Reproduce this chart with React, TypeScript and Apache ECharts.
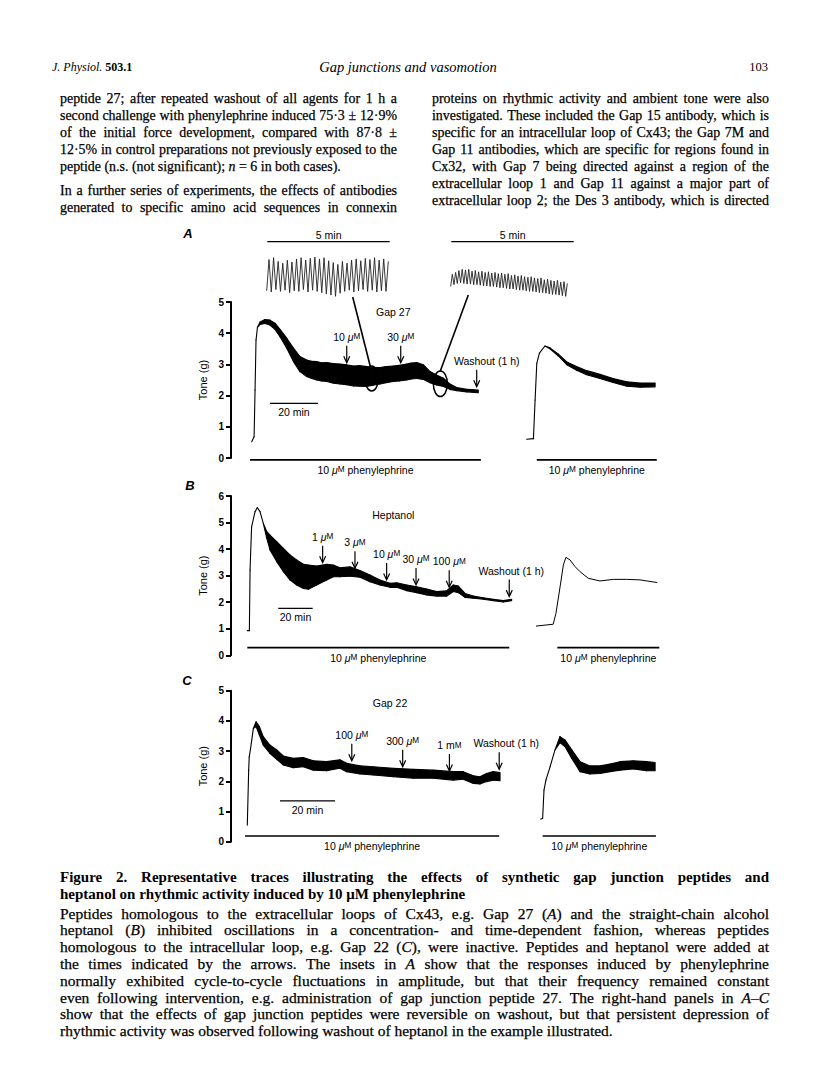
import React, { useEffect, useRef } from "react";
import * as echarts from "echarts";

const PAGE_W = 816;
const PAGE_H = 1088;
const SANS = '"Liberation Sans", Arial, Helvetica, sans-serif';
const SERIF = '"Liberation Serif", "Times New Roman", serif';

// ---------------- DATA (time in min, tone in g) ----------------
// Panel A (Gap 27) main trace: envelope of the oscillating record
const aMainT = [0, 1, 1.4, 1.8, 2.4, 3.5, 5.5, 7.6, 9.7, 11.8, 14.6, 17.4, 20.1, 22.9, 25, 27.1, 29, 31.3, 34, 36.8, 39.5, 42.4, 45, 47.9, 50.5, 53.5, 56, 59, 61.5, 64.6, 66.5, 68.8, 71.5, 74.3, 77, 79.9, 82.6, 85.4, 89.6, 94.4];
const aMainUpper = [0.52, 0.68, 2.18, 3.78, 4.19, 4.36, 4.44, 4.42, 4.32, 4.12, 3.84, 3.52, 3.25, 3.14, 3.1, 3.09, 3.05, 3.06, 3.03, 3.01, 2.99, 2.95, 2.96, 2.93, 2.9, 2.9, 2.93, 2.95, 2.97, 3.01, 3.04, 3.06, 2.99, 2.77, 2.66, 2.56, 2.37, 2.26, 2.2, 2.18];
const aMainLower = [0.52, 0.68, 2.18, 3.78, 4.19, 4.28, 4.31, 4.26, 4.12, 3.89, 3.52, 3.09, 2.77, 2.61, 2.55, 2.5, 2.47, 2.45, 2.4, 2.37, 2.35, 2.31, 2.3, 2.29, 2.33, 2.37, 2.41, 2.45, 2.47, 2.5, 2.53, 2.55, 2.52, 2.41, 2.34, 2.29, 2.2, 2.16, 2.12, 2.09];
// Panel A right-hand (after washout)
const aRightT = [0, 2.8, 3.5, 4.2, 5.3, 7.6, 9.7, 13.2, 16.7, 20.8, 25, 30.5, 36, 41.7, 47.2, 53.5];
const aRightUpper = [0.6, 0.62, 1.86, 3.03, 3.36, 3.59, 3.53, 3.33, 3.08, 2.93, 2.8, 2.68, 2.55, 2.44, 2.4, 2.4];
const aRightLower = [0.6, 0.62, 1.86, 3.03, 3.36, 3.59, 3.5, 3.27, 2.99, 2.81, 2.67, 2.55, 2.42, 2.3, 2.27, 2.28];
// Panel A insets: successive troughs and peaks of single cycles
const inset1Troughs = [2.45, 2.43, 2.47, 2.44, 2.46, 2.42, 2.45, 2.44, 2.47, 2.43, 2.46, 2.44, 2.42, 2.4, 2.38, 2.36, 2.41, 2.44, 2.46, 2.43, 2.45, 2.47, 2.44, 2.46, 2.43, 2.45, 2.44];
const inset1Peaks = [2.96, 2.99, 2.93, 2.9, 2.95, 2.92, 2.97, 2.99, 2.95, 2.98, 3.0, 2.97, 2.99, 2.94, 2.91, 2.88, 2.93, 2.9, 2.95, 2.97, 2.94, 2.98, 2.96, 2.99, 2.95, 2.97, 2.93];
const inset2Troughs = [2.52, 2.55, 2.57, 2.58, 2.57, 2.56, 2.56, 2.55, 2.55, 2.54, 2.53, 2.53, 2.52, 2.52, 2.51, 2.5, 2.5, 2.49, 2.48, 2.48, 2.47, 2.46, 2.46, 2.45, 2.44, 2.44, 2.43, 2.42, 2.42, 2.41, 2.4, 2.39, 2.39, 2.38, 2.37, 2.36];
const inset2Peaks = [2.72, 2.75, 2.78, 2.8, 2.79, 2.8, 2.77, 2.78, 2.76, 2.77, 2.75, 2.76, 2.74, 2.75, 2.73, 2.74, 2.72, 2.73, 2.7, 2.71, 2.69, 2.7, 2.68, 2.67, 2.68, 2.66, 2.65, 2.66, 2.63, 2.64, 2.62, 2.61, 2.62, 2.59, 2.6, 2.57];
const aArrowT = [39.6, 62.1, 93.75];
const aArrowV = [3.05, 3.05, 2.28];
const aArrowLabels = ["10 µM", "30 µM", "Washout (1 h)"];

// Panel B (Heptanol)
const bMainT = [0, 1.2, 1.6, 2.5, 4.5, 5.8, 7.4, 9.3, 11.3, 13.2, 17.1, 21, 24.8, 28.7, 32.6, 35.5, 40.3, 46.2, 50, 53.9, 59.7, 65.5, 71.3, 77.1, 83, 86.9, 92.7, 98.5, 104.3, 110.1, 116, 119.8, 122.7, 126.6, 131.4, 137.2, 143, 148.8, 153.7];
const bMainUpper = [0.93, 0.93, 3.21, 4.84, 5.41, 5.56, 5.41, 4.97, 4.66, 4.53, 4.28, 4.03, 3.78, 3.59, 3.43, 3.4, 3.36, 3.43, 3.4, 3.3, 3.33, 3.19, 3.02, 2.84, 2.71, 2.73, 2.65, 2.58, 2.5, 2.4, 2.43, 2.65, 2.61, 2.33, 2.23, 2.17, 2.11, 2.06, 2.11];
const bMainLower = [0.93, 0.93, 3.21, 4.84, 5.41, 5.56, 5.41, 4.97, 4.41, 3.97, 3.53, 3.15, 2.84, 2.65, 2.52, 2.49, 2.65, 2.84, 2.96, 2.96, 2.98, 2.94, 2.77, 2.65, 2.56, 2.56, 2.43, 2.36, 2.27, 2.23, 2.23, 2.4, 2.36, 2.18, 2.15, 2.11, 2.06, 2.01, 2.06];
const bRightT = [0, 10, 11.6, 14, 15.9, 17.4, 19.8, 22.7, 25.6, 30.4, 37.2, 45, 52.7, 60.5, 70.5];
const bRightV = [1.1, 1.17, 1.58, 2.58, 3.4, 3.69, 3.59, 3.34, 3.15, 2.9, 2.8, 2.86, 2.86, 2.84, 2.74];
const bArrowT = [43.8, 62.6, 81, 98.1, 117.4, 152.3];
const bArrowV = [3.49, 3.28, 2.84, 2.65, 2.56, 2.21];
const bArrowLabels = ["1 µM", "3 µM", "10 µM", "30 µM", "100 µM", "Washout (1 h)"];

// Panel C (Gap 22)
const cMainT = [0, 0.5, 0.7, 1.2, 2.2, 3.2, 4.4, 5.8, 8.2, 10.7, 13.1, 16.7, 20.3, 24, 28.8, 33.7, 36.1, 41, 45.8, 53.1, 60.4, 67.6, 74.9, 78.5, 82.2, 84.6, 87, 89.4, 91.9];
const cMainUpper = [0.55, 2.37, 2.81, 3.09, 3.75, 3.97, 3.81, 3.48, 3.2, 3.04, 2.84, 2.76, 2.79, 2.68, 2.65, 2.71, 2.6, 2.51, 2.48, 2.43, 2.4, 2.37, 2.32, 2.32, 2.18, 2.15, 2.26, 2.32, 2.29];
const cMainLower = [0.55, 2.37, 2.81, 3.09, 3.75, 3.81, 3.53, 3.2, 2.93, 2.73, 2.54, 2.45, 2.48, 2.37, 2.35, 2.43, 2.32, 2.24, 2.21, 2.15, 2.1, 2.1, 2.04, 2.07, 1.93, 1.91, 1.99, 2.04, 2.02];
const cRightT = [0, 0.7, 1.2, 1.9, 3.4, 5.2, 7, 8.8, 11.3, 14.3, 17.9, 21.6, 25.2, 28.8, 33.7, 38.5, 41.6];
const cRightUpper = [0.75, 0.77, 1.71, 2.04, 2.48, 3.04, 3.48, 3.37, 3.04, 2.65, 2.51, 2.51, 2.57, 2.65, 2.68, 2.65, 2.62];
const cRightLower = [0.75, 0.77, 1.71, 2.04, 2.48, 3.04, 3.28, 3.15, 2.76, 2.32, 2.24, 2.26, 2.32, 2.37, 2.41, 2.35, 2.35];
const cArrowT = [38, 56.5, 73.5, 91.6];
const cArrowV = [2.68, 2.48, 2.34, 2.4];
const cArrowLabels = ["100 µM", "300 µM", "1 mM", "Washout (1 h)"];

// phenylephrine bars [start, end] in min, and 20-min scale bars [start] per panel
const pheBars = [[-0.7, 95.5], [4.2, 54.2], [0, 152.3], [12.4, 71.7], [-0.84, 91.6], [0.7, 41.9]];
const pheBarV = [-0.06, -0.06, 0.29, 0.29, 0.19, 0.19];
const scaleBarStart = [7.6, 18, 11.9];
const scaleBarV = [1.75, 1.77, 1.35];
const yMaxes = [5, 5, 6, 6, 5, 5];

// ---------------- TEXT ----------------
const headerTitle = "Gap junctions and vasomotion";
const headerPage = "103";
const leftCol = [
  "peptide 27; after repeated washout of all agents for 1 h a",
  "second challenge with phenylephrine induced 75·3 ± 12·9%",
  "of the initial force development, compared with 87·8 ±",
  "12·5% in control preparations not previously exposed to the",
  "peptide (n.s. (not significant); _n_ = 6 in both cases).",
  "In a further series of experiments, the effects of antibodies",
  "generated to specific amino acid sequences in connexin",
];
const leftJust = [true, true, true, true, false, true, true];
const rightCol = [
  "proteins on rhythmic activity and ambient tone were also",
  "investigated. These included the Gap 15 antibody, which is",
  "specific for an intracellular loop of Cx43; the Gap 7M and",
  "Gap 11 antibodies, which are specific for regions found in",
  "Cx32, with Gap 7 being directed against a region of the",
  "extracellular loop 1 and Gap 11 against a major part of",
  "extracellular loop 2; the Des 3 antibody, which is directed",
];
const captionTitle = [
  "Figure 2. Representative traces illustrating the effects of synthetic gap junction peptides and",
  "heptanol on rhythmic activity induced by 10 μM phenylephrine",
];
const captionBody = [
  "Peptides homologous to the extracellular loops of Cx43, e.g. Gap 27 (_A_) and the straight-chain alcohol",
  "heptanol (_B_) inhibited oscillations in a concentration- and time-dependent fashion, whereas peptides",
  "homologous to the intracellular loop, e.g. Gap 22 (_C_), were inactive. Peptides and heptanol were added at",
  "the times indicated by the arrows. The insets in _A_ show that the responses induced by phenylephrine",
  "normally exhibited cycle-to-cycle fluctuations in amplitude, but that their frequency remained constant",
  "even following intervention, e.g. administration of gap junction peptide 27. The right-hand panels in _A–C_",
  "show that the effects of gap junction peptides were reversible on washout, but that persistent depression of",
  "rhythmic activity was observed following washout of heptanol in the example illustrated.",
];

// ---------------- LAYOUT ----------------
function gridSpec(left: number, right: number, top: number, bottom: number, t0: number, ppm: number) {
  return { left, top, width: right - left, height: bottom - top, xmin: (left - t0) / ppm, xmax: (right - t0) / ppm };
}
const LAYOUT = [
  gridSpec(231, 484, 302, 458, 251.7, 2.4),
  gridSpec(520, 662, 302, 458, 526.7, 2.4),
  gridSpec(231, 512, 496, 655.3, 247.3, 1.72),
  gridSpec(530, 662, 496, 655.3, 536, 1.72),
  gridSpec(231, 502, 690.7, 841.7, 247.3, 2.75),
  gridSpec(535, 662, 690.7, 841.7, 540.7, 2.75),
];
const INSETS = [
  { left: 266.7, top: 254, width: 121.6, height: 46 },
  { left: 450.7, top: 254, width: 116.6, height: 46 },
];

function interleave(tr: number[], pk: number[]) {
  const out: number[] = [];
  tr.forEach((v, i) => { out.push(v); out.push(pk[i]); });
  return out;
}

// filled envelope between lower and upper edges, drawn segment by segment through the axes
function band(gi: number, t: number[], lo: number[], up: number[]) {
  const data = t.slice(0, -1).map((x, i) => [x, lo[i], up[i], t[i + 1], lo[i + 1], up[i + 1]]);
  return {
    type: "custom", xAxisIndex: gi, yAxisIndex: gi, silent: true, clip: false,
    encode: { x: [0, 3], y: [1, 2, 4, 5] },
    data,
    renderItem: (_p: any, api: any) => {
      const a = api.coord([api.value(0), api.value(2)]);
      const b = api.coord([api.value(3), api.value(5)]);
      const c = api.coord([api.value(3), api.value(4)]);
      const d = api.coord([api.value(0), api.value(1)]);
      return {
        type: "polygon",
        shape: { points: [a, b, c, d] },
        style: { fill: "#000", stroke: "#000", lineWidth: 1.1, lineJoin: "round" },
      };
    },
  };
}

function buildOption() {
  const ins1 = interleave(inset1Troughs, inset1Peaks);
  const ins2 = interleave(inset2Troughs, inset2Peaks);
  return {
    animation: false,
    backgroundColor: "#fff",
    grid: [
      ...LAYOUT.map((g) => ({ left: g.left, top: g.top, width: g.width, height: g.height })),
      ...INSETS.map((g) => ({ left: g.left, top: g.top, width: g.width, height: g.height })),
    ],
    xAxis: [
      ...LAYOUT.map((g, i) => ({ type: "value", gridIndex: i, min: g.xmin, max: g.xmax, show: false })),
      { type: "category", gridIndex: 6, show: false, boundaryGap: false, data: ins1.map((_, i) => String(i)) },
      { type: "category", gridIndex: 7, show: false, boundaryGap: false, data: ins2.map((_, i) => String(i)) },
    ],
    yAxis: [
      ...LAYOUT.map((g, i) => {
        const main = i % 2 === 0;
        return {
          type: "value", gridIndex: i, min: 0, max: yMaxes[i], interval: 1, show: main,
          axisLine: { show: true, onZero: false, lineStyle: { color: "#000", width: 2 } },
          axisTick: { show: true, length: 5, lineStyle: { color: "#000", width: 2 } },
          axisLabel: { show: true, color: "#000", fontSize: 10, fontWeight: "bold", fontFamily: SANS, margin: 7 },
          splitLine: { show: false },
          name: main ? "Tone (g)" : "", nameLocation: "middle", nameGap: 23, nameRotate: 90,
          nameTextStyle: { color: "#000", fontSize: 11, fontFamily: SANS },
        };
      }),
      { type: "value", gridIndex: 6, min: 2.3, max: 3.05, show: false },
      { type: "value", gridIndex: 7, min: 2.3, max: 3.05, show: false },
    ],
    series: [
      band(0, aMainT, aMainLower, aMainUpper),
      band(1, aRightT, aRightLower, aRightUpper),
      band(2, bMainT, bMainLower, bMainUpper),
      { type: "line", xAxisIndex: 3, yAxisIndex: 3, symbol: "none", silent: true,
        data: bRightT.map((x, i) => [x, bRightV[i]]), lineStyle: { color: "#000", width: 1 } },
      band(4, cMainT, cMainLower, cMainUpper),
      band(5, cRightT, cRightLower, cRightUpper),
      { type: "line", xAxisIndex: 6, yAxisIndex: 6, symbol: "none", silent: true, data: ins1,
        lineStyle: { color: "#222", width: 0.9 } },
      { type: "line", xAxisIndex: 7, yAxisIndex: 7, symbol: "none", silent: true, data: ins2,
        lineStyle: { color: "#222", width: 0.9 } },
    ],
  };
}

// ---------------- text helpers ----------------
let mctx: CanvasRenderingContext2D | null = null;
function measure(s: string, size: number, family: string, bold: boolean, italic: boolean) {
  if (!mctx) mctx = document.createElement("canvas").getContext("2d");
  mctx!.font = `${italic ? "italic " : ""}${bold ? "bold " : ""}${size}px ${family}`;
  return mctx!.measureText(s).width;
}
type Seg = { text: string; it: boolean };
function parseWord(w: string): Seg[] {
  const segs: Seg[] = [];
  w.split("_").forEach((p, i) => { if (p) segs.push({ text: p, it: i % 2 === 1 }); });
  return segs;
}
function wordWidth(w: string, size: number, family: string, bold: boolean) {
  return parseWord(w).reduce((a, s) => a + measure(s.text, size, family, bold, s.it), 0);
}
function naturalWidth(line: string, size: number, family: string, bold: boolean) {
  const words = line.split(" ");
  return words.reduce((a, w) => a + wordWidth(w, size, family, bold), 0) + (words.length - 1) * measure(" ", size, family, bold, false);
}
function fitSize(lines: string[], just: boolean[], width: number, family: string, bold: boolean, maxSize: number) {
  let size = maxSize;
  lines.forEach((l, i) => {
    if (!just[i]) return;
    const nat = naturalWidth(l, 10, family, bold);
    size = Math.min(size, (10 * width) / nat * 0.995);
  });
  return size;
}
function wordEl(w: string, x: number, y: number, size: number, family: string, bold: boolean) {
  const segs = parseWord(w);
  const ink = { fill: "#000", stroke: "#000", lineWidth: bold ? 0 : 0.25 };
  const base: any = {
    fontSize: size, fontFamily: family, fontWeight: bold ? "bold" : "normal", ...ink,
    align: "left", verticalAlign: "middle", textAlign: "left", textVerticalAlign: "middle",
  };
  if (segs.length === 1 && !segs[0].it) {
    return { type: "text", x, y, silent: true, z: 20, style: { ...base, text: segs[0].text } };
  }
  return {
    type: "text", x, y, silent: true, z: 20,
    style: {
      ...base,
      text: segs.map((s) => `{${s.it ? "i" : "r"}|${s.text}}`).join(""),
      rich: {
        i: { fontStyle: "italic", fontSize: size, fontFamily: family, fontWeight: bold ? "bold" : "normal", ...ink },
        r: { fontSize: size, fontFamily: family, fontWeight: bold ? "bold" : "normal", ...ink },
      },
    },
  };
}
function lineEls(line: string, x0: number, y: number, width: number, size: number, family: string, bold: boolean, justify: boolean) {
  const words = line.split(" ");
  const ws = words.map((w) => wordWidth(w, size, family, bold));
  const total = ws.reduce((a, b) => a + b, 0);
  const gap = justify && words.length > 1 ? (width - total) / (words.length - 1) : measure(" ", size, family, bold, false);
  const els: any[] = [];
  let x = x0;
  words.forEach((w, i) => { els.push(wordEl(w, x, y, size, family, bold)); x += ws[i] + gap; });
  return els;
}

function figText(x: number, y: number, label: string, size = 10.5, align = "center") {
  const text = label.replace("µM", "{i|μ}{s|M}").replace("mM", "m{s|M}");
  return {
    type: "text", x, y, z: 20, silent: true,
    style: {
      text, fontSize: size, fontFamily: SANS, fill: "#000",
      align, verticalAlign: "middle", textAlign: align, textVerticalAlign: "middle",
      rich: {
        i: { fontStyle: "italic", fontSize: size, fontFamily: SANS, fill: "#000" },
        s: { fontSize: size * 0.78, fontFamily: SANS, fill: "#000" },
      },
    },
  };
}
function hline(x1: number, x2: number, y: number, w = 1.5) {
  return { type: "line", z: 15, silent: true, shape: { x1, y1: y, x2, y2: y }, style: { stroke: "#000", lineWidth: w } };
}

function buildGraphic(chart: any) {
  const P = (g: number, t: number, v: number) => chart.convertToPixel({ gridIndex: g }, [t, v]) as number[];
  const els: any[] = [];

  // header
  const headY = 67;
  els.push({
    type: "text", x: 52, y: headY, z: 20, silent: true,
    style: { text: "{i|J. Physiol.} {b|503.1}", fontSize: 12, fontFamily: SERIF, fill: "#000",
      align: "left", verticalAlign: "middle", textAlign: "left", textVerticalAlign: "middle",
      rich: { i: { fontStyle: "italic", fontSize: 12, fontFamily: SERIF, fill: "#000" },
        b: { fontWeight: "bold", fontSize: 12, fontFamily: SERIF, fill: "#000" } } },
  });
  els.push({ type: "text", x: 408, y: headY, z: 20, silent: true,
    style: { text: headerTitle, fontSize: 14.5, fontStyle: "italic", fontFamily: SERIF, fill: "#000",
      align: "center", verticalAlign: "middle", textAlign: "center", textVerticalAlign: "middle" } });
  els.push({ type: "text", x: 768, y: headY, z: 20, silent: true,
    style: { text: headerPage, fontSize: 12.5, fontFamily: SERIF, fill: "#000",
      align: "right", verticalAlign: "middle", textAlign: "right", textVerticalAlign: "middle" } });

  // body columns
  const colW = 337;
  const leftX = 60;
  const rightX = 432;
  const rightJust = rightCol.map(() => true);
  const bodySize = fitSize([...leftCol, ...rightCol], [...leftJust, ...rightJust], colW, SERIF, false, 14.5);
  const leftYs = [98, 115, 132, 149, 166, 190, 207];
  const rightYs = [98, 115, 132, 149, 166, 183, 200];
  leftCol.forEach((l, i) => els.push(...lineEls(l, leftX, leftYs[i], colW, bodySize, SERIF, false, leftJust[i])));
  rightCol.forEach((l, i) => els.push(...lineEls(l, rightX, rightYs[i], colW, bodySize, SERIF, false, true)));

  // caption
  const capX = 60;
  const capW = 709;
  const titleSize = fitSize(captionTitle, [true, false], capW, SERIF, true, 15);
  captionTitle.forEach((l, i) => els.push(...lineEls(l, capX, 877 + i * 16.5, capW, titleSize, SERIF, true, i === 0)));
  const capJust = captionBody.map((_, i) => i < captionBody.length - 1);
  const capSize = fitSize(captionBody, capJust, capW, SERIF, false, 15.5);
  captionBody.forEach((l, i) => els.push(...lineEls(l, capX, 913 + i * 16.8, capW, capSize, SERIF, false, capJust[i])));

  // panel letters
  [["A", 188, 233], ["B", 190, 485], ["C", 187, 680]].forEach(([s, x, y]) =>
    els.push({ type: "text", x, y, z: 20, silent: true,
      style: { text: s, fontSize: 13, fontStyle: "italic", fontWeight: "bold", fontFamily: SANS, fill: "#000",
        align: "center", verticalAlign: "middle", textAlign: "center", textVerticalAlign: "middle" } }));

  // panel titles
  els.push(figText(393.3, 312.3, "Gap 27"));
  els.push(figText(393.3, 515, "Heptanol"));
  els.push(figText(390, 702.7, "Gap 22"));

  // arrows
  const arrows = (g: number, ts: number[], vs: number[], labels: string[], washDx: number) => {
    ts.forEach((t, i) => {
      const [x, y] = P(g, t, vs[i]);
      const len = 17;
      els.push({ type: "line", z: 15, silent: true, shape: { x1: x, y1: y - len, x2: x, y2: y - 1 }, style: { stroke: "#000", lineWidth: 1.2 } });
      els.push({ type: "polyline", z: 15, silent: true, shape: { points: [[x - 3, y - 6.5], [x, y], [x + 3, y - 6.5]] }, style: { stroke: "#000", lineWidth: 1.2, fill: "none" } });
      const dx = i === ts.length - 1 ? washDx : 0;
      els.push(figText(x + dx, y - len - 9, labels[i]));
    });
  };
  arrows(0, aArrowT, aArrowV, aArrowLabels, 10);
  arrows(2, bArrowT, bArrowV, bArrowLabels, 2);
  arrows(4, cArrowT, cArrowV, cArrowLabels, 7);

  // phenylephrine bars
  pheBars.forEach(([t1, t2], g) => {
    const [x1, y] = P(g, t1, pheBarV[g]);
    const [x2] = P(g, t2, pheBarV[g]);
    els.push(hline(x1, x2, y, 1.6));
    els.push(figText((x1 + x2) / 2, y + 10, "10 µM phenylephrine"));
  });

  // 20 min scale bars
  [0, 2, 4].forEach((g, k) => {
    const [x1, y] = P(g, scaleBarStart[k], scaleBarV[k]);
    const [x2] = P(g, scaleBarStart[k] + 20, scaleBarV[k]);
    els.push(hline(x1, x2, y, 1.3));
    els.push(figText((x1 + x2) / 2, y + 9, "20 min"));
  });

  // inset 5-min bars
  INSETS.forEach((g) => {
    els.push(hline(g.left + 0.6, g.left + 123, 241.7, 1.3));
    els.push(figText(g.left + 62, 234.5, "5 min"));
  });

  // circles and connectors
  const [c1x, c1y] = P(0, 50, 2.55);
  const [c2x, c2y] = P(0, 78.6, 2.38);
  els.push({ type: "ellipse", z: 16, silent: true, shape: { cx: c1x, cy: c1y, rx: 6.7, ry: 12.5 }, style: { stroke: "#000", lineWidth: 1.5, fill: "none" } });
  els.push({ type: "ellipse", z: 16, silent: true, shape: { cx: c2x, cy: c2y, rx: 7, ry: 12.8 }, style: { stroke: "#000", lineWidth: 1.5, fill: "none" } });
  els.push({ type: "line", z: 16, silent: true, shape: { x1: 352.7, y1: 297, x2: c1x - 1.5, y2: c1y - 12.5 }, style: { stroke: "#000", lineWidth: 1.6 } });
  els.push({ type: "line", z: 16, silent: true, shape: { x1: 468.3, y1: 295, x2: c2x, y2: c2y - 12.8 }, style: { stroke: "#000", lineWidth: 1.6 } });

  return els;
}

export default function App() {
  const ref = useRef<HTMLDivElement>(null);
  useEffect(() => {
    const chart = echarts.init(ref.current!, null, { renderer: "svg", width: PAGE_W, height: PAGE_H });
    chart.setOption(buildOption() as any);
    chart.setOption({ graphic: buildGraphic(chart) } as any);
    return () => chart.dispose();
  }, []);
  return (
    <div
      ref={ref}
      style={{ position: "absolute", left: 0, top: 0, width: PAGE_W, height: PAGE_H, background: "#fff" }}
    />
  );
}
